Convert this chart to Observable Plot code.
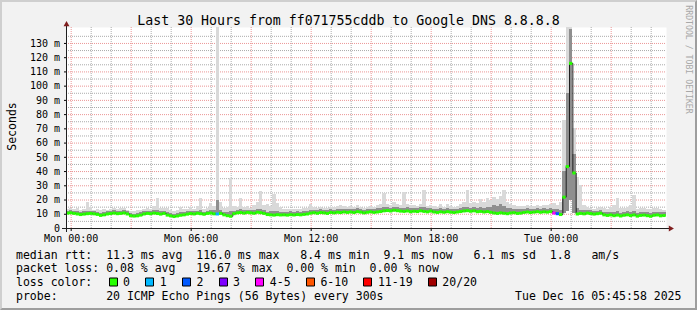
<!DOCTYPE html>
<html><head><meta charset="utf-8">
<script src="https://cdn.jsdelivr.net/npm/d3@7"></script>
<script src="https://cdn.jsdelivr.net/npm/@observablehq/plot@0.6"></script>
<style>
html,body{margin:0;padding:0;background:#f2f2f2;}
#wrap{position:relative;width:697px;height:310px;overflow:hidden;background:#f2f2f2;}
#wrap svg{display:block;}
#shade{position:absolute;left:0;top:0;width:697px;height:310px;box-sizing:border-box;border-top:2px solid #cfcfcf;border-left:2px solid #cfcfcf;border-right:2px solid #9e9e9e;border-bottom:2px solid #9e9e9e;pointer-events:none;}
</style></head>
<body><div id="wrap"><div id="shade"></div></div>
<script>
// ---- time frame ----
const startTime = new Date(2025, 11, 14, 23, 45, 58);
const endTime = new Date(2025, 11, 16, 5, 45, 58);
const firstSample = new Date(2025, 11, 14, 23, 45, 0);
const stepMinutes = 10;

// ---- median rtt (ms) per 10-minute step ----
const median = [
10.8,11.0,10.6,10.2,9.8,10.1,10.4,10.6,10.3,9.9,
9.2,9.6,10.2,10.5,10.8,10.4,10.6,10.9,10.2,9.0,
8.7,8.9,9.4,10.2,10.6,10.4,10.8,10.5,10.1,10.6,
9.4,8.9,8.4,8.8,9.3,9.6,10.1,10.5,10.2,10.7,
10.4,10.0,10.6,10.8,10.3,10.2,10.6,9.6,9.0,8.6,
10.4,11.0,11.2,10.8,11.3,11.0,10.7,11.4,11.1,10.6,
9.8,9.6,9.4,9.7,9.5,9.6,9.4,9.7,9.5,9.8,
9.6,9.9,10.2,10.8,11.1,10.7,11.2,11.0,10.6,11.3,
11.0,11.4,11.2,11.6,11.3,11.6,11.2,11.8,11.5,11.0,
11.4,11.7,11.3,11.6,11.9,12.4,12.6,12.3,12.8,12.5,
12.2,12.0,12.3,11.8,12.1,11.9,12.4,12.0,11.7,12.2,
11.6,11.3,11.7,11.4,11.8,11.5,11.2,11.6,11.9,12.3,
12.5,12.1,12.4,11.8,12.0,11.6,11.9,11.4,10.9,10.6,
11.0,10.7,10.4,10.9,11.1,10.6,10.8,11.3,11.6,11.2,
11.5,11.8,11.4,11.7,11.5,11.9,10.8,10.4,9.8,22.0,
43.5,116.0,39.0,10.2,10.6,10.3,10.8,10.5,10.1,10.4,
10.7,9.6,9.2,9.5,9.0,9.4,8.8,9.3,9.6,9.1,
9.5,8.7,9.2,9.4,9.0,8.6,9.3,9.5,8.9,9.1];

// ---- fastest ping (ms) ----
const pingMin = [
9.9,10.1,9.7,9.3,8.9,9.2,9.5,9.7,9.4,9.0,
8.4,8.7,9.3,9.6,9.9,9.5,9.7,10.0,9.3,8.2,
7.9,8.1,8.6,9.3,9.7,9.5,9.9,9.6,9.2,9.7,
8.6,8.1,7.7,8.0,8.5,8.8,9.2,9.6,9.3,9.8,
9.5,9.1,9.7,9.9,9.4,9.2,9.7,8.8,8.2,7.9,
9.5,10.1,10.2,9.9,10.3,10.1,9.8,10.4,10.2,9.7,
8.7,8.5,8.4,8.6,8.4,8.5,8.3,8.6,8.4,8.7,
8.6,8.9,9.3,9.9,10.2,9.8,10.3,10.1,9.7,10.4,
10.1,10.5,10.3,10.7,10.4,10.6,10.3,10.8,10.6,10.1,
10.5,10.7,10.4,10.7,10.9,11.3,11.6,11.3,11.8,11.5,
11.2,11.0,11.3,10.9,11.1,11.0,11.4,11.0,10.8,11.2,
10.7,10.4,10.8,10.5,10.9,10.6,10.3,10.7,10.9,11.3,
11.5,11.1,11.4,10.9,11.0,10.7,10.9,10.5,10.0,9.7,
10.1,9.8,9.5,10.0,10.2,9.7,9.9,10.4,10.7,10.3,
10.6,10.8,10.5,10.8,10.6,10.9,9.9,9.5,8.9,10.2,
12.0,20.0,10.5,9.3,9.7,9.4,9.9,9.6,9.2,9.5,
9.8,8.8,8.4,8.7,8.2,8.6,8.0,8.5,8.8,8.3,
8.7,7.9,8.4,8.6,8.2,7.8,8.5,8.7,8.1,8.3];

// ---- upper bulk of the pings (ms) ----
const pingUpper = [
12.2,12.5,12.0,11.7,11.3,11.6,12.2,12.1,11.7,11.4,
10.8,11.1,11.6,11.9,12.3,11.8,12.1,12.4,11.6,10.5,
10.1,10.4,10.9,11.7,12.1,11.8,12.4,12.6,11.6,12.1,
11.0,10.4,10.0,10.3,11.1,11.1,11.6,12.0,11.7,12.2,
12.4,11.5,12.1,12.9,12.6,19.5,12.7,11.3,10.9,11.8,
12.1,12.7,13.0,12.5,12.9,12.6,12.3,13.2,13.0,12.4,
11.5,11.6,11.9,11.7,11.4,11.5,11.3,11.6,11.4,11.6,
11.5,11.7,12.0,12.7,12.9,12.4,13.0,12.8,12.3,13.1,
12.9,13.3,13.2,13.5,13.1,13.5,13.1,13.7,13.4,12.9,
13.3,13.6,13.2,13.7,13.9,14.7,14.6,14.3,15.0,14.7,
14.4,14.3,14.5,13.9,14.1,13.9,14.5,14.7,13.7,14.3,
13.6,13.3,13.9,13.4,14.0,13.5,13.2,13.6,14.0,14.5,
15.1,14.3,14.7,14.1,14.9,14.3,15.1,14.6,16.1,15.5,
17.1,15.7,13.9,13.7,13.5,13.0,13.2,13.5,13.7,13.3,
13.6,13.9,13.5,13.8,13.6,14.1,13.6,13.1,12.9,40.0,
95.0,140.0,52.0,14.1,12.9,12.3,12.7,12.4,11.9,12.2,
12.6,11.5,11.1,11.5,11.3,11.9,10.7,11.3,11.6,11.5,
12.1,10.7,11.1,11.3,11.0,10.6,11.2,11.4,10.9,11.1];

// ---- slowest ping (ms) ----
const pingMax = [
13.5,14.2,13.0,13.8,12.6,13.1,18.5,15.0,12.9,13.4,
12.5,13.2,12.8,13.6,14.4,13.0,13.9,14.1,12.9,12.2,
11.8,12.4,12.7,13.3,14.0,13.2,15.6,21.3,14.2,13.8,
14.3,12.6,12.2,12.9,14.8,13.1,13.4,14.6,13.0,15.2,
21.0,13.6,14.2,17.5,15.4,150.0,18.0,13.8,14.9,35.0,
15.2,14.8,21.0,14.5,15.8,14.1,16.0,18.2,26.0,16.0,
17.0,15.5,24.0,17.5,14.8,13.6,13.2,13.4,13.0,13.5,
13.3,13.8,14.4,17.0,14.6,14.0,15.0,14.2,13.8,14.9,
14.6,15.4,16.0,15.2,14.9,15.6,14.8,15.9,15.1,14.4,
15.0,15.7,14.9,16.4,17.0,24.4,17.2,16.0,18.5,17.0,
16.5,25.5,16.8,15.9,16.2,15.6,17.0,26.5,15.8,16.4,
15.4,15.0,17.2,15.1,16.6,15.3,14.8,15.5,16.8,18.0,
26.5,17.4,18.0,17.5,20.5,18.0,21.0,19.6,22.0,20.5,
22.5,26.5,18.6,17.0,16.2,15.4,15.8,15.6,15.9,15.2,
15.6,16.0,15.5,15.9,16.2,16.8,17.5,16.0,18.0,76.0,
150.0,160.0,70.0,36.0,30.0,16.5,15.0,14.2,13.6,14.0,
14.6,14.0,13.2,14.5,16.0,21.0,13.8,14.2,14.8,16.5,
23.0,13.4,13.9,14.0,13.5,13.0,13.8,14.2,13.4,12.6];

// ---- steps with packet loss ----
const lossIndex = [45, 146, 147];
const lossPings = [1, 5, 2];

// ---- legend ----
const lossLabels = ["0", "1", "2", "3", "4-5", "6-10", "11-19", "20/20"];
const lossColors = ["#26ff00", "#00b8ff", "#0059ff", "#7e00ff", "#ff00ff", "#ff5500", "#ff0000", "#a10000"];
const lossUpper = [0, 1, 2, 3, 5, 10, 19, 20];

// ---- axes ----
const yTop = 141.2;
const yTicks = [0, 10, 20, 30, 40, 50, 60, 70, 80, 90, 100, 110, 120, 130];
const xTickTimes = [new Date(2025, 11, 15, 0), new Date(2025, 11, 15, 6), new Date(2025, 11, 15, 12), new Date(2025, 11, 15, 18), new Date(2025, 11, 16, 0)];
const xTickLabels = ["Mon 00:00", "Mon 06:00", "Mon 12:00", "Mon 18:00", "Tue 00:00"];

// ---- texts ----
const titleText = "Last 30 Hours from ff071755cddb to Google DNS 8.8.8.8";
const yLabel = "Seconds";
const creditText = "RRDTOOL / TOBI OETIKER";
const legendMedian = "median rtt:  11.3 ms avg  116.0 ms max   8.4 ms min  9.1 ms now   6.1 ms sd  1.8   am/s";
const legendLoss = "packet loss: 0.08 % avg   19.67 % max  0.00 % min  0.00 % now";
const legendColor = "loss color:";
const legendProbe = "probe:       20 ICMP Echo Pings (56 Bytes) every 300s";
const stampText = "Tue Dec 16 05:45:58 2025";

// ---- build table ----
const stepMs = stepMinutes * 60000;
const rows = median.map((m, i) => ({
  t: new Date(+firstSample + i * stepMs),
  t2: new Date(+firstSample + (i + 1) * stepMs),
  med: m, lo: pingMin[i], up: pingUpper[i], hi: pingMax[i], loss: 0
}));
lossIndex.forEach((k, j) => { rows[k].loss = lossPings[j]; });
const lossColor = n => lossColors[lossUpper.findIndex(u => n <= u)];

const hours = d3.timeHour.range(startTime, endTime);
const minorX = hours.filter(d => d.getHours() % 3 !== 0);
const majorX = hours.filter(d => d.getHours() % 3 === 0);
const minorY = d3.range(5, yTop, 10);
const majorY = yTicks.filter(v => v > 0);

const ML = 66, MR = 31, MT = 27, MB = 82;
const mono = "DejaVu Sans Mono";
const FS = 11.53;
const txt = (s, x, y, o = {}) => Plot.text([s], {
  frameAnchor: "top-left", dx: x - ML, dy: y - MT,
  text: d => d.replace(/ /g, "\u00a0"),
  textAnchor: "start", lineAnchor: "middle",
  fontFamily: mono, fontSize: FS, fill: "#000", ...o
});

const legendMarks = [];
let bx = 108.3;
lossLabels.forEach((lab, k) => {
  const cx = Math.round(bx + 4.2);
  legendMarks.push(Plot.dot([lab], {frameAnchor: "top-left", dx: cx - ML, dy: 281.5 - MT, symbol: "square", r: 4.514, fill: lossColors[k], stroke: "#000", strokeWidth: 1}));
  legendMarks.push(txt(lab, bx + 14.2, 281.7));
  bx += 36.7 + 6.94 * (lab.length - 1);
});

const chart = Plot.plot({
  width: 697, height: 310,
  marginLeft: ML, marginRight: MR, marginTop: MT, marginBottom: MB,
  style: {background: "transparent", fontFamily: mono, overflow: "visible"},
  x: {type: "time", domain: [startTime, endTime]},
  y: {domain: [0, yTop]},
  color: {type: "identity"},
  marks: [
    Plot.frame({fill: "#fff", stroke: "none"}),
    Plot.ruleY(minorY, {stroke: "#ababab", strokeDasharray: "1,1"}),
    Plot.ruleX(minorX, {stroke: "#ababab", strokeDasharray: "1,1"}),
    Plot.ruleY(majorY, {stroke: "#eb9696", strokeDasharray: "1,1"}),
    Plot.ruleX(majorX, {stroke: "#eb9696", strokeDasharray: "1,1"}),
    Plot.rect(rows, {x1: "t", x2: "t2", y1: "lo", y2: "hi", fill: "#d9d9d9", clip: true, shapeRendering: "crispEdges"}),
    Plot.rect(rows, {x1: "t", x2: "t2", y1: "lo", y2: "up", fill: "#8f8f8f", clip: true, shapeRendering: "crispEdges"}),
    Plot.line(rows, {x: "t", y: "med", curve: "step-after", stroke: "#1f1f1f", strokeWidth: 1, clip: true}),
    Plot.ruleY(rows, {y: "med", x1: "t", x2: "t2", stroke: d => lossColor(d.loss), strokeWidth: 3, clip: true}),
    Plot.axisY(yTicks, {anchor: "left", tickSize: 2, tickPadding: 4.5, tickFormat: d => d === 0 ? "0" : `${d} m`, fontFamily: mono, fontSize: 10, label: null}),
    Plot.axisX(xTickTimes, {anchor: "bottom", tickSize: 3, tickPadding: 3, tickFormat: d => xTickLabels[xTickTimes.findIndex(t => +t === +d)], fontFamily: mono, fontSize: 10, label: null}),
    Plot.ruleX([startTime], {stroke: "#1f1f1f", insetTop: -5, insetBottom: -4}),
    Plot.ruleY([0], {stroke: "#1f1f1f", insetLeft: -4, insetRight: -4}),
    Plot.dot([startTime], {x: d => d, y: () => yTop, dy: -3, symbol: "triangle", r: 2.2, fill: "#801f1f", stroke: "none"}),
    Plot.dot([endTime], {x: d => d, y: () => 0, dx: 4, rotate: 90, symbol: "triangle", r: 2.2, fill: "#801f1f", stroke: "none"}),
    txt(titleText, 348, 19.8, {textAnchor: "middle", fontSize: 13.24}),
    txt(yLabel, 12, 126, {textAnchor: "middle", rotate: -90, fontSize: 11.5}),
    txt(creditText, 688, 59, {textAnchor: "middle", rotate: 90, fontSize: 8.2, fill: "#a8a8a8"}),
    txt(legendMedian, 15.5, 254.7),
    txt(legendLoss, 15.5, 268),
    txt(legendColor, 15.5, 281.7),
    txt(legendProbe, 15.5, 295.3),
    txt(stampText, 681, 295.3, {textAnchor: "end"}),
    ...legendMarks
  ]
});
document.getElementById("wrap").prepend(chart);
</script></body></html>
